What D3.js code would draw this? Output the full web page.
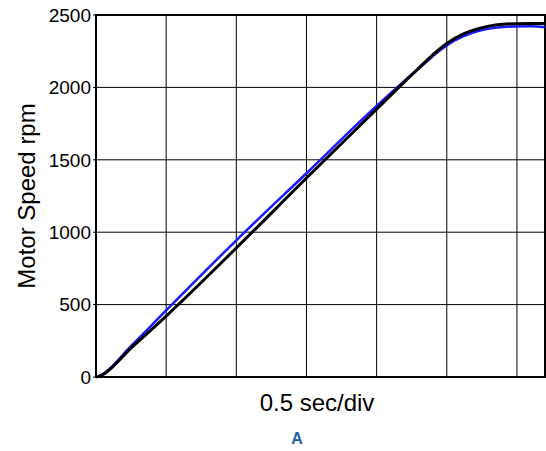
<!DOCTYPE html>
<html>
<head>
<meta charset="utf-8">
<script src="https://cdn.jsdelivr.net/npm/d3@7"></script>
<style>
  body { margin: 0; background: #fff; }
  svg { font-family: "Liberation Sans", Arial, sans-serif; }
</style>
</head>
<body>
<svg width="546" height="451"></svg>
<script>
// time in seconds, speed in rpm
var refTime  = [0, 0.03, 0.25, 0.5, 1.0, 1.5, 2.0, 2.2, 2.345, 2.42, 2.5, 2.616, 2.737, 2.858, 2.986, 3.1, 3.2];
var refSpeed = [0, 8, 200, 421, 891, 1374, 1850, 2040, 2175, 2242, 2304, 2368, 2408, 2432, 2440, 2441, 2441];

var measTime  = [0, 0.03, 0.25, 0.5, 1.0, 1.5, 2.0, 2.2, 2.345, 2.42, 2.5, 2.616, 2.737, 2.858, 2.986, 3.1, 3.2];
var measSpeed = [0, 10, 214, 460, 944, 1407, 1872, 2046, 2168, 2232, 2290, 2352, 2392, 2413, 2421, 2422, 2416];

var yTicks = [0, 500, 1000, 1500, 2000, 2500];
var xGrid = [0.5, 1, 1.5, 2, 2.5, 3];

var svg = d3.select("svg");
var plotL = 96, plotR = 545, plotT = 15, plotB = 377;

var x = d3.scaleLinear().domain([0, 3.2]).range([plotL, plotR]);
var y = d3.scaleLinear().domain([0, 2500]).range([plotB, plotT]);

// grid
svg.append("g").selectAll("line")
    .data(xGrid)
    .enter().append("line")
      .attr("x1", function(d) { return x(d); })
      .attr("x2", function(d) { return x(d); })
      .attr("y1", plotT).attr("y2", plotB)
      .attr("stroke", "#000").attr("stroke-width", 1);

svg.append("g").selectAll("line")
    .data(yTicks)
    .enter().append("line")
      .attr("x1", plotL - 3).attr("x2", plotR)
      .attr("y1", function(d) { return y(d); })
      .attr("y2", function(d) { return y(d); })
      .attr("stroke", "#000").attr("stroke-width", 1);

// y tick labels
svg.append("g").selectAll("text")
    .data(yTicks)
    .enter().append("text")
      .attr("x", plotL - 5)
      .attr("y", function(d) { return y(d); })
      .attr("dy", "0.36em")
      .attr("text-anchor", "end")
      .attr("font-size", 19)
      .text(function(d) { return d; });

// frame
svg.append("rect")
    .attr("x", plotL).attr("y", plotT)
    .attr("width", plotR - plotL).attr("height", plotB - plotT)
    .attr("fill", "none").attr("stroke", "#000").attr("stroke-width", 2);

var line = d3.line().curve(d3.curveMonotoneX);

var measPts = measTime.map(function(t, i) { return [x(t), y(measSpeed[i])]; });
var refPts = refTime.map(function(t, i) { return [x(t), y(refSpeed[i])]; });

svg.append("path")
    .attr("d", line(measPts))
    .attr("fill", "none").attr("stroke", "#1a1aff").attr("stroke-width", 2.5);

svg.append("path")
    .attr("d", line(refPts))
    .attr("fill", "none").attr("stroke", "#000").attr("stroke-width", 3);

// labels
svg.append("text")
    .attr("x", 317)
    .attr("y", 411)
    .attr("text-anchor", "middle")
    .attr("font-size", 24)
    .text("0.5 sec/div");

svg.append("text")
    .attr("transform", "translate(35," + (plotT + plotB) / 2 + ") rotate(-90)")
    .attr("text-anchor", "middle")
    .attr("font-size", 24)
    .text("Motor Speed rpm");

svg.append("text")
    .attr("x", 297)
    .attr("y", 444)
    .attr("text-anchor", "middle")
    .attr("font-size", 16)
    .attr("font-weight", "bold")
    .attr("fill", "#1d64a6")
    .text("A");
</script>
</body>
</html>
